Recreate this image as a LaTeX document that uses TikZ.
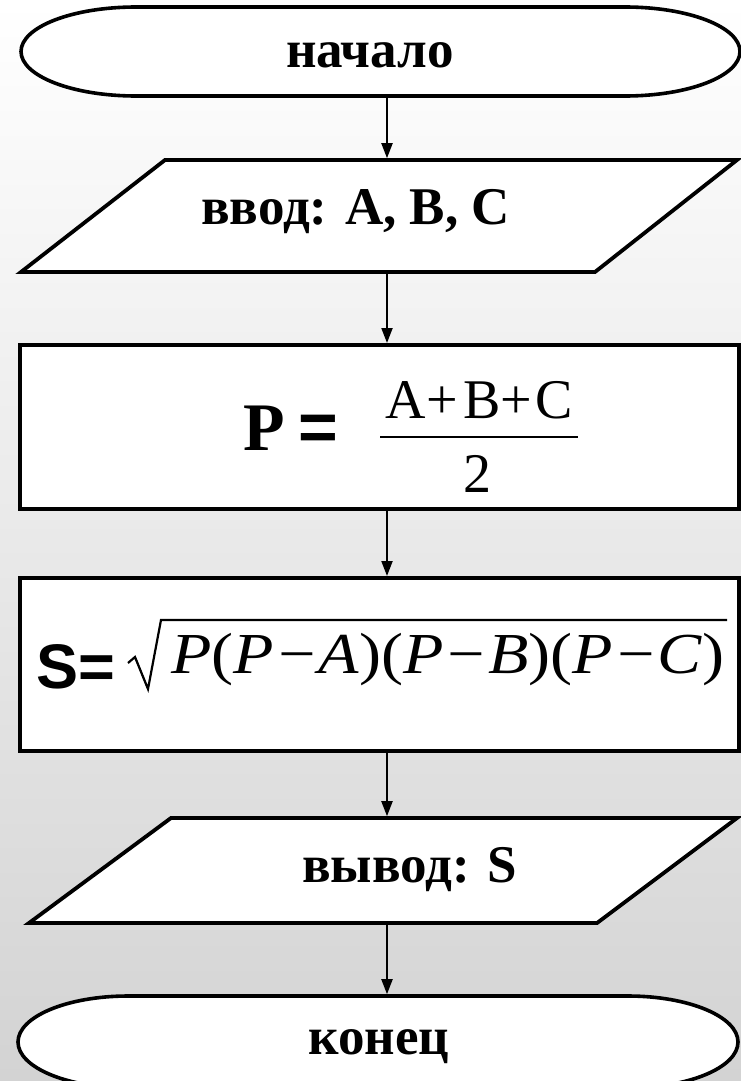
\documentclass[tikz,border=0pt]{standalone}
\usepackage{fontspec}
\usepackage{graphicx}
\setmainfont{Liberation Serif}
\newfontfamily\sansfam{Liberation Sans}
\usetikzlibrary{arrows.meta,calc}
\definecolor{bgtop}{RGB}{255,255,255}
\definecolor{bgmid}{RGB}{240,240,240}
\definecolor{bgbot}{RGB}{211,211,211}
\begin{document}
\begin{tikzpicture}[x=1pt,y=-1pt,
  termline/.style={draw=black,line width=3.6pt,fill=white},
  paraline/.style={draw=black,line width=3.8pt,fill=white,line join=miter},
  boxline/.style={draw=black,line width=4pt,fill=white,inner sep=0pt,outer sep=2pt},
  frame/.style={inner sep=0pt,outer sep=1.8pt},
  conn/.style={draw=black,line width=2pt,-{Triangle[length=15pt,width=11pt]}},
  cyr/.style={inner sep=0pt,anchor=base,font=\fontsize{53}{53}\selectfont\bfseries}]
\useasboundingbox (0,0) rectangle (741,1081);
\clip (0,0) rectangle (741,1081);
\shade[top color=bgtop,middle color=bgmid,bottom color=bgbot] (0,0) rectangle (741,1081);
\coordinate (ax) at (387,0);

% start terminal
\draw[termline] (136,7) -- (625,7) arc[start angle=-90,end angle=90,x radius=115,y radius=44.5]
  -- (136,96) arc[start angle=90,end angle=270,x radius=115,y radius=44.5] -- cycle;
\node[frame,minimum width=719pt,minimum height=89pt] (start) at (380.5,51.5) {};
\node[cyr] (tstart) at (370,67) {начало};

% input parallelogram
\draw[paraline] (165,160) -- (737,160) -- (595,272) -- (21,272) -- cycle;
\node[frame,minimum width=716pt,minimum height=112pt] (in) at (379,216) {};
\node[cyr] (tin) at (355.6,224) {ввод: A, B, C};

% box 1
\node[boxline,minimum width=718.5pt,minimum height=164pt] (calc1) at (379.25,427) {};
\node[inner sep=0pt,anchor=base west] (tp) at (243,450.7)
  {{\fontsize{68}{68}\selectfont\bfseries P}\kern14pt{\sansfam\fontsize{68}{68}\selectfont\bfseries =}};
\node[inner sep=0pt,anchor=base] (tnum) at (479,418)
  {\fontsize{56}{56}\selectfont A\kern1pt+\kern5pt B\kern0pt+\kern3pt C};
\draw[line width=2.2pt] (380,437) -- (578,437);
\node[inner sep=0pt,anchor=base] (tden) at (477,492) {\fontsize{56}{56}\selectfont 2};

% box 2
\node[boxline,minimum width=718.5pt,minimum height=173pt] (calc2) at (379.25,664.5) {};
\node[inner sep=0pt,anchor=base west] (ts) at (36,688)
  {\sansfam\fontsize{63}{63}\selectfont\bfseries S=};
\draw[line width=2.2pt,line join=miter] (128,663) -- (135,657) -- (148,689) -- (161,620) -- (727,620);
\draw[line width=1.4pt] (135,657) -- (148,689);
\node[inner sep=0pt,anchor=base west] (trad) at (171,673)
  {\scalebox{1.14}[1]{\fontsize{58}{58}\selectfont\itshape P\textup{(}P−A\textup{)(}P−B\textup{)(}P−C\textup{)}}};

% output parallelogram
\draw[paraline] (171,818) -- (737,818) -- (597,923) -- (29,923) -- cycle;
\node[frame,minimum width=708pt,minimum height=105pt] (out) at (383,870.5) {};
\node[cyr] (tout) at (409.5,882) {вывод: S};

% end terminal
\draw[termline] (128,996) -- (628,996) arc[start angle=-90,end angle=90,x radius=110,y radius=46]
  -- (128,1088) arc[start angle=90,end angle=270,x radius=110,y radius=46] -- cycle;
\node[frame,minimum width=720pt,minimum height=92pt] (stop) at (378,1042) {};
\node[cyr] (tstop) at (379,1054) {конец};

% connectors
\draw[conn] (start.south -| ax) -- (in.north -| ax);
\draw[conn] (in.south -| ax) -- (calc1.north -| ax);
\draw[conn] (calc1.south -| ax) -- (calc2.north -| ax);
\draw[conn] (calc2.south -| ax) -- (out.north -| ax);
\draw[conn] (out.south -| ax) -- (stop.north -| ax);
\end{tikzpicture}
\end{document}
